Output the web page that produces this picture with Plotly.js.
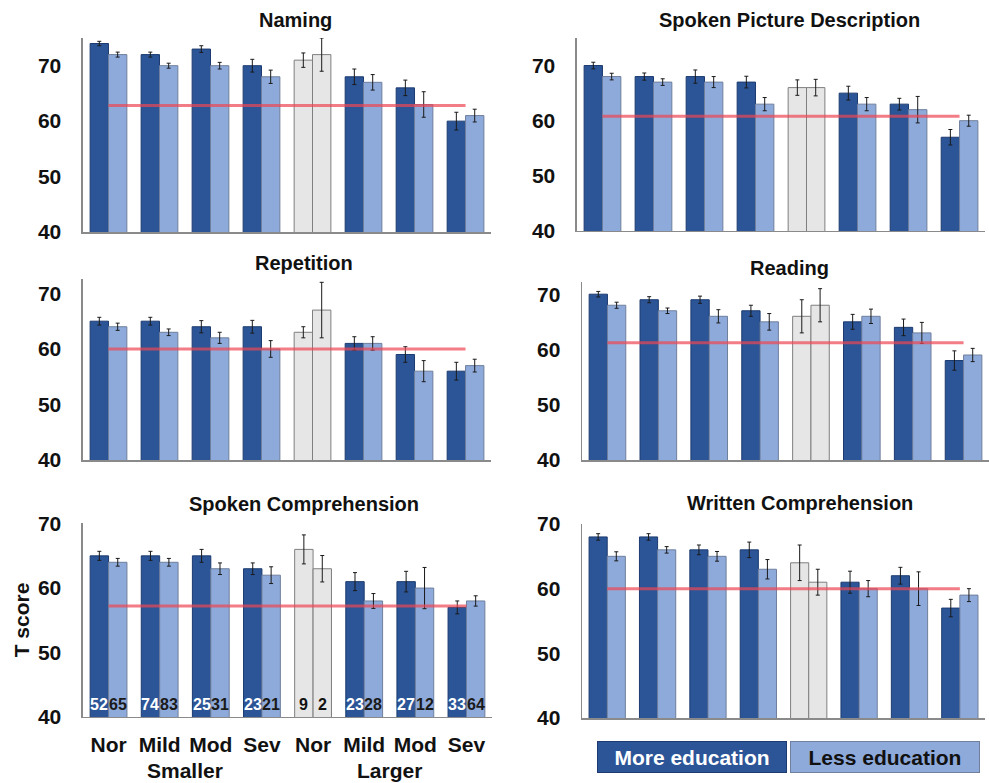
<!DOCTYPE html>
<html>
<head>
<meta charset="utf-8">
<script src="https://cdn.plot.ly/plotly-3.0.1.min.js"></script>
<style>html,body{margin:0;padding:0;background:#fff}#chart{width:989px;height:783px}</style>
</head>
<body>
<div id="chart"></div>
<script>
// ---- data ----
const categories = ['Nor','Mild','Mod','Sev','Nor','Mild','Mod','Sev'];
const sizeGroups = ['Smaller','Smaller','Smaller','Smaller','Larger','Larger','Larger','Larger'];
const groupNames = ['Smaller','Larger'];
const panelTitles = ['Naming','Spoken Picture Description','Repetition','Reading','Spoken Comprehension','Written Comprehension'];
const seriesNames = ['More education','Less education'];

const namingMore = [74,72,73,70,71,68,66,60];
const namingMoreErr = [0.4,0.45,0.6,1.15,1.3,1.4,1.4,1.6];
const namingLess = [72,70,70,68,72,67,63,61];
const namingLessErr = [0.45,0.45,0.6,1.2,3,1.4,2.3,1.15];
const namingCutoff = 62.8;

const descMore = [70,68,68,67,66,65,63,57];
const descMoreErr = [0.6,0.65,1.2,1.06,1.4,1.25,1.06,1.4];
const descLess = [68,67,67,63,66,63,62,60];
const descLessErr = [0.6,0.6,1,1.2,1.5,1.2,2.4,1];
const descCutoff = 60.8;

const repMore = [65,65,64,64,63,61,59,56];
const repMoreErr = [0.7,0.7,1.1,1.15,1,1.2,1.4,1.6];
const repLess = [64,63,62,60,67,61,56,57];
const repLessErr = [0.65,0.6,1,1.5,5,1.2,1.9,1.15];
const repCutoff = 60;

const readMore = [70,69,69,67,66,65,64,58];
const readMoreErr = [0.5,0.55,0.65,1,3,1.35,1.5,1.75];
const readLess = [68,67,66,65,68,66,63,59];
const readLessErr = [0.55,0.5,1.2,1.5,3,1.3,1.9,1.2];
const readCutoff = 61.2;

const scMore = [65,65,65,63,66,61,61,57];
const scMoreErr = [0.7,0.7,1,0.9,2.25,1.4,1.6,1];
const scLess = [64,64,63,62,63,58,60,58];
const scLessErr = [0.6,0.6,0.9,1.3,2.05,1.15,3.2,0.8];
const scCutoff = 57.2;

const wcMore = [68,68,66,66,64,61,62,57];
const wcMoreErr = [0.5,0.5,0.75,1.2,2.75,1.7,1.3,1.35];
const wcLess = [65,66,65,63,61,60,60,59];
const wcLessErr = [0.7,0.5,0.75,1.5,2,1.25,2.6,1];
const wcCutoff = 60;

const nMore = [52,74,25,23,9,23,27,33];
const nLess = [65,83,31,21,2,28,12,64];

// ---- styling ----
const FONT = 'Liberation Sans, Arial, Helvetica, sans-serif';
const DARK = '#2b5597', LIGHT = '#8eaadb', GRAY = '#e6e6e6';
const BARGAP = 0.28;
const keys = categories.map((c,i) => sizeGroups[i] + ' ' + c);   // unique category keys
const isGray = categories.map((c,i) => sizeGroups[i] === 'Larger' && c === 'Nor');
const darkFill = isGray.map(g => g ? GRAY : DARK);
const darkLine = isGray.map(g => g ? '#7f7f7f' : '#1d3b70');
const lightFill = isGray.map(g => g ? GRAY : LIGHT);
const lightLine = isGray.map(g => g ? '#7f7f7f' : '#6f7f9c');
const darkTextCol = isGray.map(g => g ? '#111' : '#ffffff');
const lightTextCol = isGray.map(g => g ? '#111' : '#1a1a1a');

const panels = [
  {more: namingMore, moreErr: namingMoreErr, less: namingLess, lessErr: namingLessErr, cut: namingCutoff,
   xd: [0.0839,0.4965], yd: [0.7037,0.9515], yr: [40,75]},
  {more: descMore, moreErr: descMoreErr, less: descLess, lessErr: descLessErr, cut: descCutoff,
   xd: [0.5834,0.9960], yd: [0.7050,0.9515], yr: [40,75]},
  {more: repMore, moreErr: repMoreErr, less: repLess, lessErr: repLessErr, cut: repCutoff,
   xd: [0.0839,0.4965], yd: [0.4125,0.6437], yr: [40,72.6]},
  {more: readMore, moreErr: readMoreErr, less: readLess, lessErr: readLessErr, cut: readCutoff,
   xd: [0.5885,1.0], yd: [0.4125,0.6398], yr: [40,72.2]},
  {more: scMore, moreErr: scMoreErr, less: scLess, lessErr: scLessErr, cut: scCutoff,
   xd: [0.0839,0.4975], yd: [0.0843,0.3321], yr: [40,70.1], labels: true, counts: true},
  {more: wcMore, moreErr: wcMoreErr, less: wcLess, lessErr: wcLessErr, cut: wcCutoff,
   xd: [0.5885,0.9960], yd: [0.0830,0.3308], yr: [40,70]}
];
const titlePos = [[0.2983,0.9745],[0.798,0.9745],[0.307,0.664],[0.798,0.6577],[0.307,0.3563],[0.809,0.3576]];

const traces = [];
const layout = {
  width: 989, height: 783,
  margin: {l:0, r:0, t:0, b:0},
  paper_bgcolor: '#fff', plot_bgcolor: '#fff',
  showlegend: false,
  barmode: 'group', bargap: BARGAP, bargroupgap: 0,
  font: {family: FONT, color: '#111', weight: 'bold'},
  annotations: [], shapes: []
};

panels.forEach((p, k) => {
  const sfx = k === 0 ? '' : String(k+1);
  const xa = 'x' + sfx, ya = 'y' + sfx;
  traces.push({
    type: 'bar', name: seriesNames[0], x: keys, y: p.more, xaxis: xa, yaxis: ya,
    marker: {color: darkFill, line: {color: darkLine, width: 1}},
    error_y: {type: 'data', array: p.moreErr, visible: true, color: '#1a1a1a', thickness: 1, width: 2},
    hoverinfo: 'y'
  });
  traces.push({
    type: 'bar', name: seriesNames[1], x: keys, y: p.less, xaxis: xa, yaxis: ya,
    marker: {color: lightFill, line: {color: lightLine, width: 1}},
    error_y: {type: 'data', array: p.lessErr, visible: true, color: '#1a1a1a', thickness: 1, width: 2},
    hoverinfo: 'y'
  });
  traces.push({
    type: 'scatter', mode: 'lines', x: [keys[0], keys[keys.length-1]],
    y: [p.cut, p.cut], xaxis: xa, yaxis: ya,
    line: {color: 'rgba(238,70,82,0.7)', width: 3}, hoverinfo: 'y'
  });
  layout['xaxis' + sfx] = {
    domain: p.xd, anchor: ya, type: 'category',
    tickvals: keys, ticktext: categories,
    showline: true, linecolor: '#8a8a8a', linewidth: 1.5,
    showgrid: false, zeroline: false, ticks: '',
    showticklabels: !!p.labels, ticklabelstandoff: 8,
    tickfont: {family: FONT, size: 21, weight: 'bold', color: '#111'},
    fixedrange: true
  };
  layout['yaxis' + sfx] = {
    domain: p.yd, anchor: xa, range: p.yr,
    tickvals: [40,50,60,70], ticks: '', ticklabelstandoff: 16,
    showline: true, linecolor: '#8a8a8a', linewidth: 1.5,
    showgrid: false, zeroline: false,
    tickfont: {family: FONT, size: 21, weight: 'bold', color: '#111'},
    fixedrange: true
  };
  if (p.labels) {
    layout['yaxis' + sfx].title = {text: 'T score', standoff: 2,
      font: {family: FONT, size: 21, weight: 'bold', color: '#111'}};
    // group labels under the category labels
    groupNames.forEach(g => {
      const idx = sizeGroups.map((s,i) => s === g ? i : -1).filter(i => i >= 0);
      const mid = idx.reduce((a,b) => a+b, 0) / idx.length;
      layout.annotations.push({
        xref: xa, yref: 'paper', x: mid, y: 1 - 770/783, xanchor: 'center', yanchor: 'middle',
        showarrow: false, text: g, font: {family: FONT, size: 21, weight: 'bold', color: '#111'}
      });
    });
  }
  if (p.counts) {
    const half = (1 - BARGAP) / 4;
    keys.forEach((kk, i) => {
      layout.annotations.push({
        xref: xa, yref: ya, x: i - half, y: p.yr[0], xanchor: 'center', yanchor: 'bottom', yshift: 2,
        showarrow: false, text: String(nMore[i]),
        font: {family: FONT, size: 16, weight: 'bold', color: darkTextCol[i]}
      });
      layout.annotations.push({
        xref: xa, yref: ya, x: i + half, y: p.yr[0], xanchor: 'center', yanchor: 'bottom', yshift: 2,
        showarrow: false, text: String(nLess[i]),
        font: {family: FONT, size: 16, weight: 'bold', color: lightTextCol[i]}
      });
    });
  }
  layout.annotations.push({
    xref: 'paper', yref: 'paper', x: titlePos[k][0], y: titlePos[k][1],
    xanchor: 'center', yanchor: 'middle', showarrow: false,
    text: panelTitles[k], font: {family: FONT, size: 20, weight: 'bold', color: '#111'}
  });
});

// legend boxes (bottom right)
layout.annotations.push({
  xref: 'paper', yref: 'paper', x: 0.6992, y: 0.0326, xanchor: 'center', yanchor: 'middle',
  showarrow: false, text: seriesNames[0], width: 186, height: 28, borderpad: 1,
  bgcolor: DARK, bordercolor: '#1d3b70', borderwidth: 1,
  font: {family: FONT, size: 21, weight: 'bold', color: '#ffffff'}
});
layout.annotations.push({
  xref: 'paper', yref: 'paper', x: 0.8948, y: 0.0326, xanchor: 'center', yanchor: 'middle',
  showarrow: false, text: seriesNames[1], width: 186, height: 28, borderpad: 1,
  bgcolor: LIGHT, bordercolor: '#6f7f9c', borderwidth: 1,
  font: {family: FONT, size: 21, weight: 'bold', color: '#111'}
});

Plotly.newPlot('chart', traces, layout, {staticPlot: true, displayModeBar: false});
</script>
</body>
</html>
